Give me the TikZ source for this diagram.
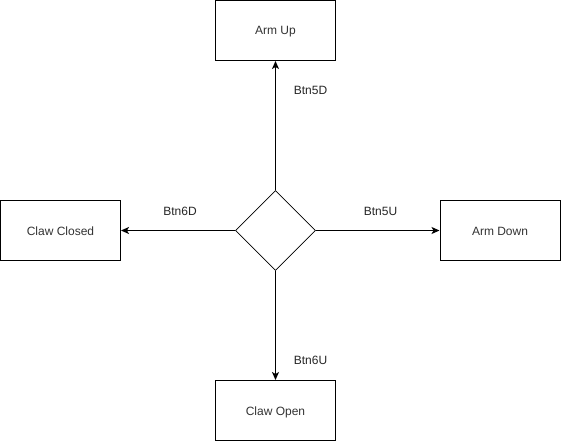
\documentclass[tikz,border=0pt]{standalone}
\usepackage{fontspec}
\setmainfont{Liberation Sans}
\usetikzlibrary{arrows.meta,shapes.geometric}
\begin{document}
\begin{tikzpicture}[x=1pt,y=-1pt,
  statebox/.style={draw,line width=1pt,minimum width=120pt,minimum height=60pt,inner sep=0pt,font=\fontsize{12}{14}\selectfont,text=black!80,text depth=0pt,text height=9pt},
  decision/.style={draw,line width=0.8pt,diamond,minimum width=80pt,minimum height=80pt,inner sep=0pt},
  conn/.style={line width=1pt,-{Stealth[length=8pt,width=7pt,inset=2pt]}},
  lbl/.style={font=\fontsize{12}{14}\selectfont,text=black!85,inner sep=0pt,text depth=0pt,text height=9pt}]
\useasboundingbox (0,0) rectangle (561,441);
\fill[white] (0,0) rectangle (561,441);
\node[statebox] (up) at (275.5,30.5) {Arm Up};
\node[statebox] (closed) at (60.5,230.5) {Claw Closed};
\node[statebox] (down) at (500,230.5) {Arm Down};
\node[statebox] (open) at (275.5,410.5) {Claw Open};
\node[decision] (d) at (275.5,230.5) {};
\draw[conn] (d.north) -- (up.south);
\draw[conn] (d.west) -- (closed.east);
\draw[conn] (d.east) -- (down.west);
\draw[conn] (d.south) -- (open.north);
\node[lbl] (l1) at (310.5,90.5) {Btn5D};
\node[lbl] (l2) at (180,211) {Btn6D};
\node[lbl] (l3) at (380.5,211) {Btn5U};
\node[lbl] (l4) at (310.5,360) {Btn6U};
\end{tikzpicture}
\end{document}
